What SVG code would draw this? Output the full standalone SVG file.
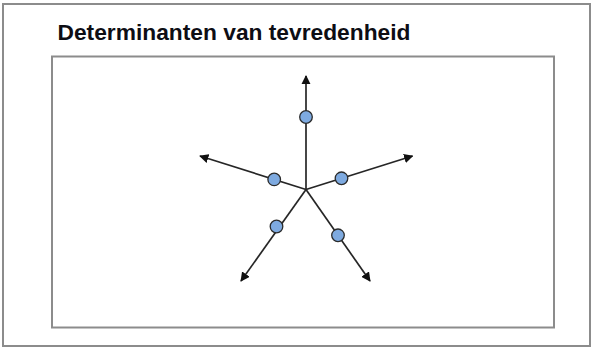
<svg xmlns="http://www.w3.org/2000/svg" width="595" height="348" viewBox="0 0 595 348">
  <style>
    .frame { fill: #ffffff; stroke: #8c8c8c; stroke-width: 2; }
    .title { font-family: "Liberation Sans", Arial, sans-serif; font-weight: bold; font-size: 22.5px; fill: #0d0d14; }
    .spoke { stroke: #262626; stroke-width: 1.7; fill: none; marker-end: url(#arrow); }
    .dot { fill: #7eaae0; stroke: #2b2b2b; stroke-width: 1.3; }
  </style>
  <defs>
    <marker id="arrow" viewBox="0 0 10 10" refX="9" refY="5" markerWidth="5.5" markerHeight="5.5" orient="auto" markerUnits="strokeWidth">
      <path d="M0,0 L10,5 L0,10 Z" fill="#111111"/>
    </marker>
  </defs>

  <rect width="595" height="348" fill="#ffffff"/>

  <!-- outer panel and inner plot area -->
  <rect class="frame" x="3" y="4" width="587" height="342"/>
  <rect class="frame" x="52" y="56.5" width="502" height="271"/>

  <text class="title" x="57.5" y="40" textLength="353" lengthAdjust="spacingAndGlyphs">Determinanten van tevredenheid</text>

  <!-- spokes radiating from the centre -->
  <g id="connectors">
    <line class="spoke" x1="306" y1="189.5" x2="306" y2="76"/>
    <line class="spoke" x1="306" y1="189.5" x2="200" y2="156"/>
    <line class="spoke" x1="306" y1="189.5" x2="412.5" y2="156"/>
    <line class="spoke" x1="306" y1="189.5" x2="241" y2="281"/>
    <line class="spoke" x1="306" y1="189.5" x2="370" y2="281"/>
  </g>

  <!-- markers on each spoke -->
  <g id="node-top"><circle class="dot" cx="306" cy="117" r="6.3"/></g>
  <g id="node-left"><circle class="dot" cx="274.2" cy="179.4" r="6.3"/></g>
  <g id="node-right"><circle class="dot" cx="341.5" cy="178.3" r="6.3"/></g>
  <g id="node-lower-left"><circle class="dot" cx="276.5" cy="226.5" r="6.3"/></g>
  <g id="node-lower-right"><circle class="dot" cx="338" cy="235.3" r="6.3"/></g>
</svg>
